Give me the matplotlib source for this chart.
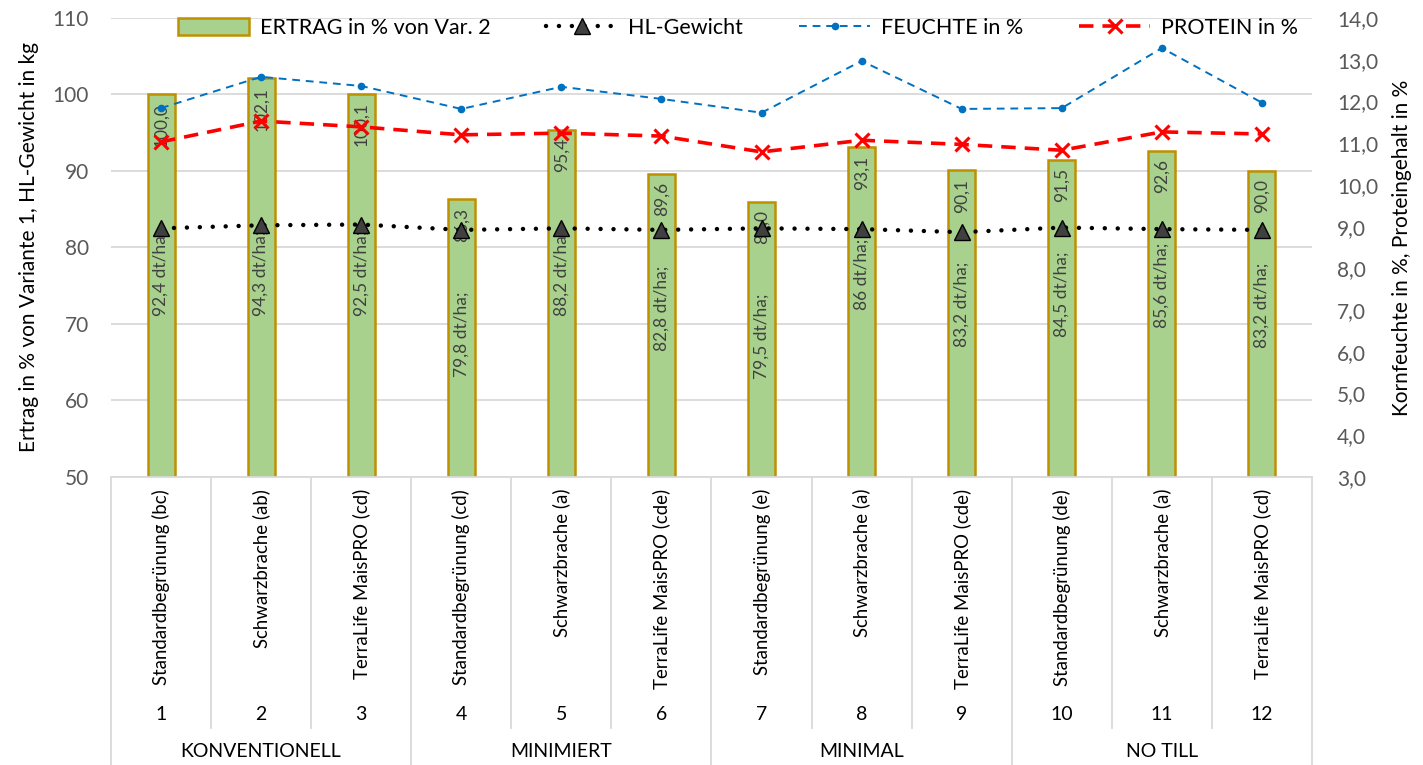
import numpy as np
import matplotlib
matplotlib.use("Agg")
import matplotlib.pyplot as plt
from matplotlib.ticker import FuncFormatter

plt.rcParams['font.family'] = ['Lato', 'DejaVu Sans']

# data
varianten = ["Standardbegrünung (bc)", "Schwarzbrache (ab)", "TerraLife MaisPRO (cd)",
             "Standardbegrünung (cd)", "Schwarzbrache (a)", "TerraLife MaisPRO (cde)",
             "Standardbegrünung (e)", "Schwarzbrache (a)", "TerraLife MaisPRO (cde)",
             "Standardbegrünung (de)", "Schwarzbrache (a)", "TerraLife MaisPRO (cd)"]
nummern = [str(i) for i in range(1, 13)]
gruppen = ["KONVENTIONELL", "MINIMIERT", "MINIMAL", "NO TILL"]

ertrag = [100.0, 102.1, 100.1, 86.3, 95.4, 89.6, 86.0, 93.1, 90.1, 91.5, 92.6, 90.0]
ertrag_dt = ["92,4", "94,3", "92,5", "79,8", "88,2", "82,8", "79,5", "86", "83,2", "84,5", "85,6", "83,2"]
hl_gewicht = [82.5, 82.9, 83.0, 82.3, 82.5, 82.3, 82.5, 82.4, 82.0, 82.6, 82.4, 82.3]
feuchte = [11.84, 12.59, 12.37, 11.82, 12.35, 12.06, 11.73, 12.97, 11.82, 11.84, 13.28, 11.97]
protein = [11.03, 11.53, 11.39, 11.20, 11.24, 11.17, 10.79, 11.07, 10.97, 10.83, 11.27, 11.22]

grid_col = '#d9d9d9'
tick_col = '#595959'

x = np.arange(1, len(varianten) + 1)

fig = plt.figure(figsize=(14.23, 7.65), dpi=100)
ax = fig.add_axes([0.078, 0.3765, 0.844, 0.6])
ax2 = ax.twinx()

# bars
bars = ax.bar(x, ertrag, width=0.27, color='#a9d18e', edgecolor='#bf9000', linewidth=1.8,
              label='ERTRAG in % von Var. 2', zorder=2)
ax.set_ylim(50, 110)
ax.set_xlim(0.5, len(x) + 0.5)
ax.set_yticks(np.arange(50, 111, 10))
ax.yaxis.grid(True, color=grid_col, linewidth=1.3, zorder=0)
ax.set_axisbelow(True)

# bar labels: value near the top, dt/ha further down
for xi, val, dt in zip(x, ertrag, ertrag_dt):
    ax.annotate(f"{val:.1f}".replace('.', ','), (xi, val), xytext=(0, -6),
                textcoords='offset points', rotation=90, ha='center', va='top',
                fontsize=12.5, color='#404040', zorder=3)
    ax.text(xi, min(val - 12, 82.2), f"{dt} dt/ha;", rotation=90, ha='center', va='top',
            fontsize=12.5, color='#404040', zorder=3)

# HL-Gewicht on left axis
hl, = ax.plot(x, hl_gewicht, color='black', linewidth=3.2, linestyle=(0, (0.01, 2.9)),
              dash_capstyle='round', marker='^', markersize=11, markerfacecolor='#404040',
              markeredgecolor='black', markeredgewidth=1.0, label='HL-Gewicht', zorder=4)

# moisture and protein on right axis
fe, = ax2.plot(x, feuchte, color='#0070c0', linewidth=1.4, linestyle=(0, (4, 3)),
               marker='o', markersize=4.5, label='FEUCHTE in %', zorder=4)
pr, = ax2.plot(x, protein, color='#ff0000', linewidth=2.6, linestyle=(0, (4, 2.5)),
               marker='x', markersize=10, markeredgewidth=2.2, label='PROTEIN in %', zorder=4)
ax2.set_ylim(3, 14)
ax2.set_yticks(np.arange(3, 14.1, 1))
ax2.yaxis.set_major_formatter(FuncFormatter(lambda v, p: f"{v:.1f}".replace('.', ',')))

for a in (ax, ax2):
    for s in ('top', 'left', 'right'):
        a.spines[s].set_visible(False)
ax2.spines['bottom'].set_visible(False)
ax.spines['bottom'].set_color(grid_col)
ax.spines['bottom'].set_linewidth(1.3)

ax.tick_params(axis='y', length=0, labelsize=15, labelcolor=tick_col, pad=16)
ax2.tick_params(axis='y', length=0, labelsize=15, labelcolor=tick_col, pad=18)
ax.set_xticks(x)
ax.set_xticklabels([])
ax.tick_params(axis='x', direction='in', length=5, color=grid_col, width=1.3)

ax.set_ylabel('Ertrag in % von Variante 1, HL-Gewicht in kg', fontsize=15, labelpad=10)
ax2.set_ylabel('Kornfeuchte in %, Proteingehalt in %', fontsize=15, labelpad=10)

# category axis: names, numbers, groups and separators
trans = ax.get_xaxis_transform()
for xi, name, num in zip(x, varianten, nummern):
    ax.text(xi, -0.026, name, transform=trans, rotation=90, ha='center', va='top',
            fontsize=13.4, color='black')
    ax.text(xi, -0.518, num, transform=trans, ha='center', va='center',
            fontsize=14, color='black')
for i in range(len(x) + 1):
    edge = 0.5 + i
    bottom = -0.627 if i % 3 == 0 else -0.547
    ax.plot([edge, edge], [0, bottom], transform=trans, color=grid_col,
            linewidth=1.3, clip_on=False)
for g, name in enumerate(gruppen):
    ax.text(2 + 3 * g, -0.599, name, transform=trans, ha='center', va='center',
            fontsize=14, color='black')

# legend
ax2.legend([bars, hl, fe, pr], [bars.get_label(), hl.get_label(), fe.get_label(), pr.get_label()],
           loc='center', bbox_to_anchor=(0.522, 0.978), ncol=4,
           frameon=False, fontsize=15.5, handlelength=3.3, handletextpad=0.5,
           columnspacing=2.6, handleheight=0.85)

fig.savefig('out.png', dpi=100)
